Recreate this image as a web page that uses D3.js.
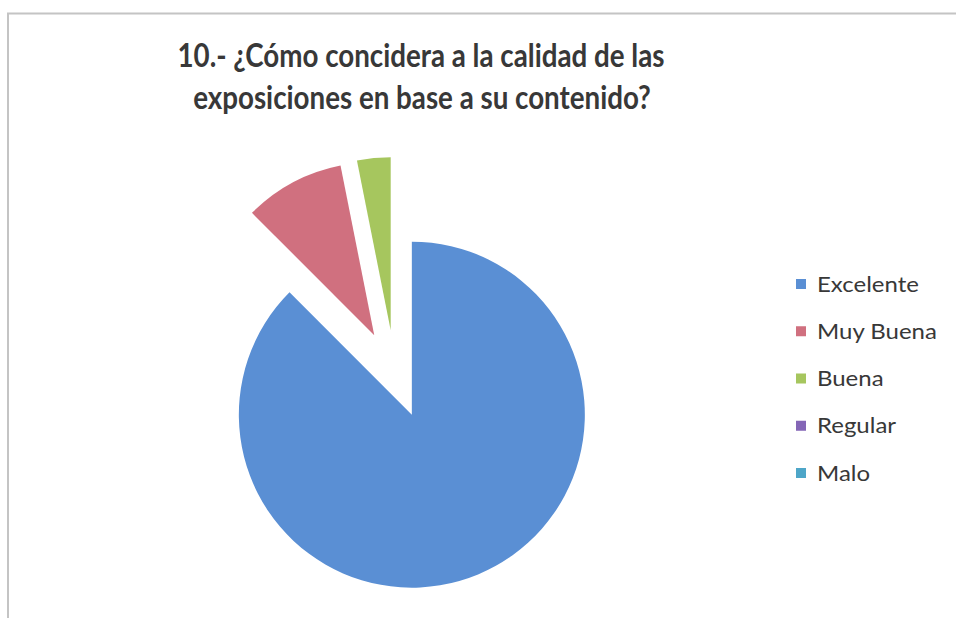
<!DOCTYPE html>
<html>
<head>
<meta charset="utf-8">
<script src="https://cdn.jsdelivr.net/npm/d3@7"></script>
<style>
  html, body { margin: 0; padding: 0; background: #ffffff; }
  svg { display: block; }
</style>
</head>
<body>
<svg id="chart" width="956" height="618"></svg>
<script>
const titleLines = ["10.- ¿Cómo concidera a la calidad de las", "exposiciones en base a su contenido?"];
const categories = ["Excelente", "Muy Buena", "Buena", "Regular", "Malo"];
const values = [28, 3, 1, 0, 0];
const colors = ["#5a8fd4", "#d0707f", "#a6c65e", "#8466b6", "#4ea6c8"];

const W = 956, H = 618;
const svg = d3.select("#chart");

// frame lines (scanned chart border)
svg.append("line").attr("x1", 7).attr("x2", W).attr("y1", 13.5).attr("y2", 13.5)
  .attr("stroke", "#c4c4c4").attr("stroke-width", 2);
svg.append("line").attr("x1", 8).attr("x2", 8).attr("y1", 13).attr("y2", H)
  .attr("stroke", "#c4c4c4").attr("stroke-width", 2);

// title
const fs = 32;
const titleG = svg.append("g");
const t1 = titleG.append("text").attr("x", 421).attr("y", 67)
  .attr("text-anchor", "middle").attr("font-family", "Lato, 'Open Sans', sans-serif")
  .attr("font-weight", "bold").attr("fill", "#383838").attr("font-size", fs)
  .text(titleLines[0]);
const t2 = titleG.append("text").attr("x", 422).attr("y", 109)
  .attr("text-anchor", "middle").attr("font-family", "Lato, 'Open Sans', sans-serif")
  .attr("font-weight", "bold").attr("fill", "#383838").attr("font-size", fs)
  .text(titleLines[1]);
const w1 = t1.node().getComputedTextLength();
const w2 = t2.node().getComputedTextLength();
const k = 487 / w1;
t1.attr("textLength", 487).attr("lengthAdjust", "spacingAndGlyphs");
t2.attr("textLength", w2 * k).attr("lengthAdjust", "spacingAndGlyphs");

// pie
const cx = 395, cy = 374, r = 173, explode = 44;
const pie = d3.pie().sort(null).value(d => d.value).startAngle(0).endAngle(2 * Math.PI);
const arcs = pie(categories.map((c, i) => ({ name: c, value: values[i], color: colors[i] })));
const arc = d3.arc().innerRadius(0).outerRadius(r);
const pieG = svg.append("g").attr("transform", `translate(${cx},${cy})`);
pieG.selectAll("path").data(arcs.filter(a => a.value > 0)).join("path")
  .attr("d", arc)
  .attr("fill", d => d.data.color)
  .attr("transform", d => {
    const m = (d.startAngle + d.endAngle) / 2;
    return `translate(${explode * Math.sin(m)},${-explode * Math.cos(m)})`;
  });

// legend
const legY = d3.scalePoint().domain(categories).range([284, 473]);
const legG = svg.append("g");
const rows = legG.selectAll("g").data(categories).join("g")
  .attr("transform", d => `translate(796,${legY(d)})`);
rows.append("rect").attr("x", 0).attr("y", -5).attr("width", 10).attr("height", 10)
  .attr("fill", (d, i) => colors[i]);
rows.append("text").attr("x", 21).attr("y", 7.5)
  .attr("font-family", "Lato, 'Open Sans', sans-serif").attr("font-size", 22)
  .attr("fill", "#383838").text(d => d)
  .each(function () {
    const w = this.getComputedTextLength();
    d3.select(this).attr("textLength", w * 1.09).attr("lengthAdjust", "spacingAndGlyphs");
  });
</script>
</body>
</html>
